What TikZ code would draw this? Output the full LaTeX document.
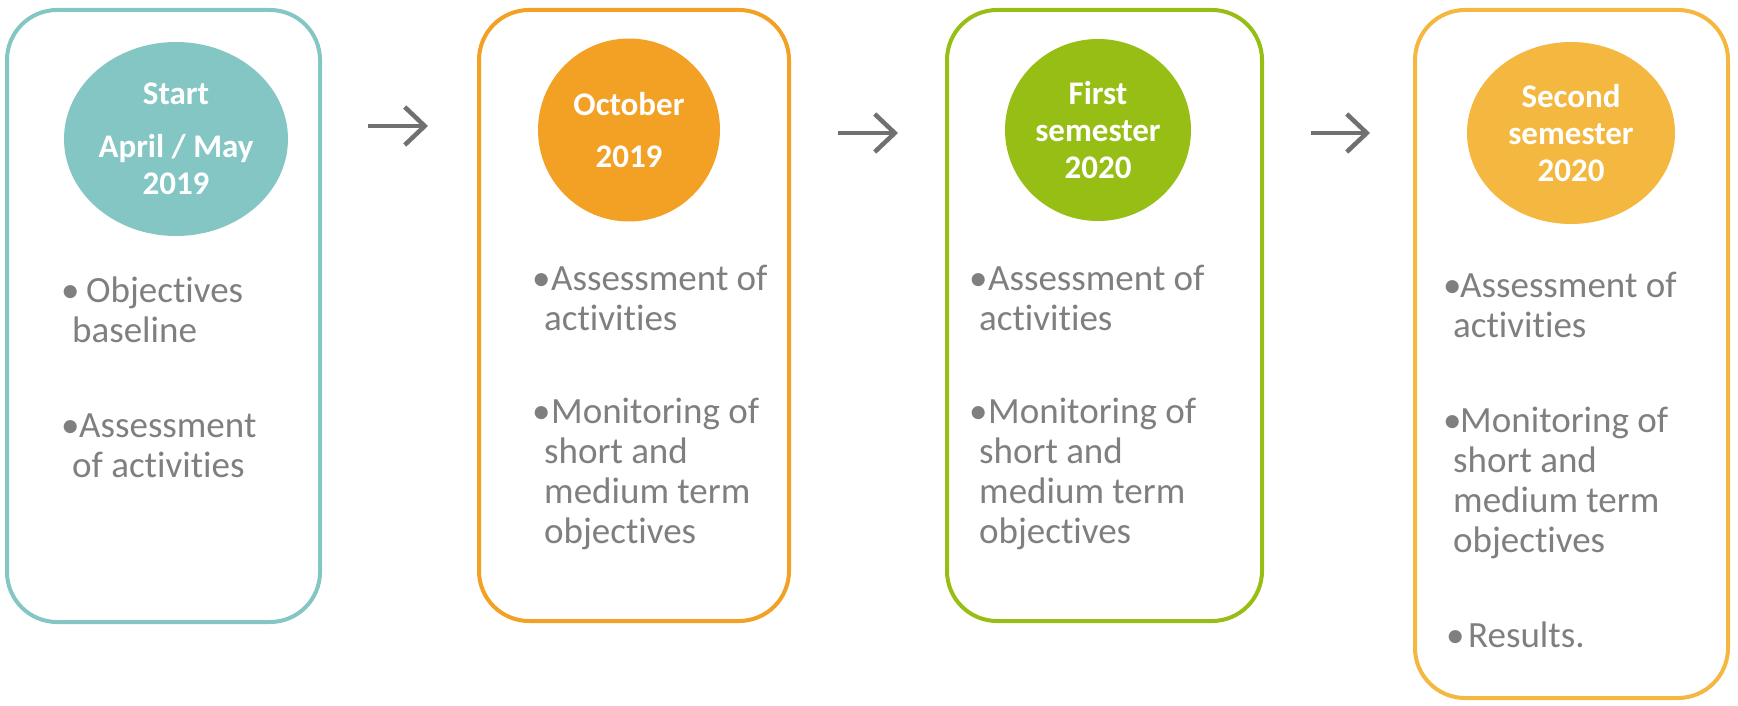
\documentclass[tikz,border=0pt]{standalone}
\usepackage{fontspec}
\setmainfont{Carlito}[Ligatures=NoCommon]
\usetikzlibrary{shapes.geometric,arrows.meta}

\definecolor{stageteal}{HTML}{84C6C4}
\definecolor{stageorange}{HTML}{F2A124}
\definecolor{stagegreen}{HTML}{97BE14}
\definecolor{stageyellow}{HTML}{F4B73F}
\definecolor{bodygray}{HTML}{7F7F7F}
\definecolor{arrowgray}{HTML}{707070}

\begin{document}
\begin{tikzpicture}[x=1pt, y=-1pt,
        stagebox/.style = {draw, line width=4pt, rounded corners=50pt, inner sep=0pt, outer sep=0pt},
        datebubble/.style = {ellipse, inner sep=0pt, text=white, align=center,
            font=\fontsize{33}{37}\selectfont\bfseries},
        itemtext/.style = {anchor=base west, align=left, inner sep=0pt, text=bodygray,
            font=\fontsize{37}{40}\selectfont},
        flow/.style = {arrowgray, line width=4.5pt, -{Straight Barb[length=20pt, width=38pt]}}]
        \useasboundingbox (0, 0) rectangle (1738, 706);

        % the four stages
        \node[stagebox, draw = stageteal, minimum width = 313pt, minimum height = 612pt] (startbox) at (163.5, 316) {};
        \node[stagebox, draw = stageorange, minimum width = 310pt, minimum height = 611pt] (octbox) at (634, 315.5) {};
        \node[stagebox, draw = stagegreen, minimum width = 315pt, minimum height = 611pt] (semonebox) at (1104.5, 315.5) {};
        \node[stagebox, draw = stageyellow, minimum width = 313pt, minimum height = 688pt] (semtwobox) at (1571.5, 354) {};

        \node[datebubble, fill = stageteal, minimum width = 224pt, minimum height = 194pt] (startdate) at (176, 139) {Start\\[16pt]April / May\\2019};
        \node[datebubble, fill = stageorange, minimum width = 182pt, minimum height = 183pt] (octdate) at (629, 130) {October\\[15pt]2019};
        \node[datebubble, fill = stagegreen, minimum width = 186pt, minimum height = 182pt] (semonedate) at (1098, 130) {First\\semester\\2020};
        \node[datebubble, fill = stageyellow, minimum width = 208pt, minimum height = 182pt] (semtwodate) at (1571, 133) {Second\\semester\\2020};

        % what happens in each stage (placed at the baseline of the last line)
        \node[itemtext] (startobj) at (61, 342) {\makebox[25pt][l]{•}Objectives\\\hspace*{11pt}baseline};
        \node[itemtext] (startassess) at (61, 477) {\makebox[18pt][l]{•}Assessment\\\hspace*{11pt}of activities};
        \node[itemtext] (octassess) at (532, 330) {\makebox[19pt][l]{•}Assessment of\\\hspace*{12pt}activities};
        \node[itemtext] (octmonitor) at (532, 543) {\makebox[19pt][l]{•}Monitoring of\\\hspace*{12pt}short and\\\hspace*{12pt}medium term\\\hspace*{12pt}objectives};
        \node[itemtext] (semoneassess) at (969, 330) {\makebox[19pt][l]{•}Assessment of\\\hspace*{10pt}activities};
        \node[itemtext] (semonemonitor) at (969, 543) {\makebox[19pt][l]{•}Monitoring of\\\hspace*{10pt}short and\\\hspace*{10pt}medium term\\\hspace*{10pt}objectives};
        \node[itemtext] (semtwoassess) at (1443, 337) {\makebox[17pt][l]{•}Assessment of\\\hspace*{10pt}activities};
        \node[itemtext] (semtwomonitor) at (1443, 552) {\makebox[17pt][l]{•}Monitoring of\\\hspace*{10pt}short and\\\hspace*{10pt}medium term\\\hspace*{10pt}objectives};
        \node[itemtext] (semtworesults) at (1446, 647) {\makebox[22pt][l]{•}Results.};

        % arrows between the stages
        \draw[flow, shorten <= 48pt, shorten >= 51pt] (startbox.east |- 0, 126) -- (octbox.west |- 0, 126);
        \draw[flow, shorten <= 49pt, shorten >= 49pt] (octbox.east |- 0, 133) -- (semonebox.west |- 0, 133);
        \draw[flow, shorten <= 49pt, shorten >= 45pt] (semonebox.east |- 0, 133) -- (semtwobox.west |- 0, 133);
    \end{tikzpicture}
\end{document}
